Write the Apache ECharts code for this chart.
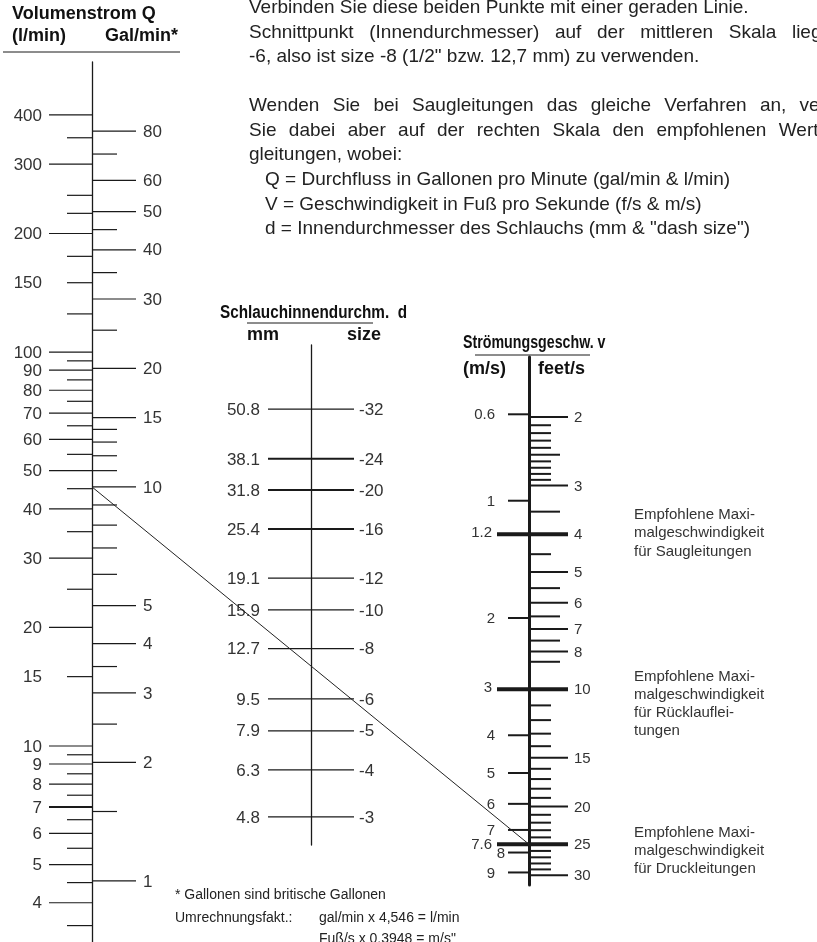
<!DOCTYPE html>
<html>
<head>
<meta charset="utf-8">
<script src="https://cdn.jsdelivr.net/npm/echarts@6/dist/echarts.min.js"></script>
<style>
  html, body { margin: 0; padding: 0; background: #fff; }
  #main { width: 817px; height: 942px; }
</style>
</head>
<body>
<div id="main"></div>
<script>
// Volumenstrom Q, l/min (left side of the first scale)
const lpmLabels = [400, 300, 200, 150, 100, 90, 80, 70, 60, 50, 40, 30, 20, 15, 10, 9, 8, 7, 6, 5, 4];
const lpmShort = [150, 15];
const lpmMinor = [350, 250, 225, 175, 125, 95, 85, 75, 65, 55, 45, 35, 25, 9.5, 8.5, 7.5, 6.5, 5.5, 4.5, 3.5];
// Volumenstrom Q, Gal/min (right side of the first scale)
const galLabels = [80, 60, 50, 40, 30, 20, 15, 10, 5, 4, 3, 2, 1];
const galMinor = [70, 45, 35, 25, 14, 13, 12, 11, 9, 8, 7, 6, 3.5, 2.5, 1.5];
const GAL_TO_L = 4.546;
// Schlauchinnendurchmesser d
const hoseMm = [50.8, 38.1, 31.8, 25.4, 19.1, 15.9, 12.7, 9.5, 7.9, 6.3, 4.8];
const hoseSize = [-32, -24, -20, -16, -12, -10, -8, -6, -5, -4, -3];
const hoseBold = [38.1, 31.8, 25.4];
// Strömungsgeschwindigkeit v
const ftLabels = [2, 3, 4, 5, 6, 7, 8, 10, 15, 20, 25, 30];
const ftBold = [4, 10, 25];
const ftMid = [2.5, 3.5, 5.5, 6.5, 7.5, 8.5];
const ftMinor = [2.1, 2.2, 2.3, 2.4, 2.6, 2.7, 2.8, 2.9, 4.5, 11, 12, 13, 14, 16, 17, 18, 19, 21, 22, 23, 24, 26, 27, 28, 29];
const mpsLabels = [0.6, 1, 1.2, 2, 3, 4, 5, 6, 7, 7.6, 8, 9];
const mpsBold = [1.2, 3, 7.6];
const FT_TO_M = 0.3048;
// example: 10 Gal/min with 25 feet/s
const exampleGal = 10;
const exampleFt = 25;

const INK = '#1a1a1a';
const LABEL = '#333';
const FONT = '"Liberation Sans", Arial, Helvetica, sans-serif';

var chartDom = document.getElementById('main');
var myChart = echarts.init(chartDom, null, { renderer: 'canvas' });

// one tick series on a scale; from/to/labelX are pixel offsets from the axis line
function ticks(grid, values, cfg) {
    return {
        type: 'custom',
        xAxisIndex: grid,
        yAxisIndex: grid,
        silent: true,
        clip: false,
        data: values.map(function (v) { return [0, cfg.toAxis ? cfg.toAxis(v) : v]; }),
        renderItem: function (params, api) {
            var i = params.dataIndex;
            var v = values[i];
            var p = api.coord([0, api.value(1)]);
            var children = [];
            var from = typeof cfg.from === 'function' ? cfg.from(v) : cfg.from;
            var to = typeof cfg.to === 'function' ? cfg.to(v) : cfg.to;
            if (from !== null) {
                children.push({
                    type: 'line',
                    shape: { x1: p[0] + from, y1: p[1], x2: p[0] + to, y2: p[1] },
                    style: { stroke: INK, lineWidth: cfg.width ? cfg.width(v) : 1.2 }
                });
            }
            if (cfg.label) {
                var lx = typeof cfg.labelX === 'function' ? cfg.labelX(v) : cfg.labelX;
                children.push({
                    type: 'text',
                    x: p[0] + lx,
                    y: p[1] + 1,
                    style: {
                        text: cfg.label(v, i),
                        textAlign: cfg.align,
                        textVerticalAlign: 'middle',
                        fontSize: cfg.fontSize || 17,
                        fontFamily: FONT,
                        fill: LABEL
                    }
                });
            }
            return { type: 'group', children: children };
        }
    };
}

function txt(x, y, text, size, bold, color, scaleX) {
    return {
        type: 'text', x: x, y: y, silent: true, scaleX: scaleX || 1,
        style: {
            text: text,
            textVerticalAlign: 'middle',
            fontSize: size,
            fontWeight: bold ? 'bold' : 'normal',
            fontFamily: FONT,
            fill: color || '#222'
        }
    };
}
function hline(x1, x2, y, w) {
    return { type: 'line', silent: true, shape: { x1: x1, y1: y, x2: x2, y2: y }, style: { stroke: INK, lineWidth: w || 1 } };
}

// paragraph lines: text, x, y, extra word gap (justified print)
var paragraph = [
    ['Verbinden Sie diese beiden Punkte mit einer geraden Linie.', 249, 8, 0],
    ['Schnittpunkt (Innendurchmesser) auf der mittleren Skala liegt', 249, 33, 10.4],
    ['-6, also ist size -8 (1/2" bzw. 12,7 mm) zu verwenden.', 249, 57, 0],
    ['Wenden Sie bei Saugleitungen das gleiche Verfahren an, verwenden', 249, 106, 8],
    ['Sie dabei aber auf der rechten Skala den empfohlenen Wert für', 249, 131, 7.1],
    ['gleitungen, wobei:', 249, 155, 0],
    ['Q = Durchfluss in Gallonen pro Minute (gal/min & l/min)', 265, 180, 0],
    ['V = Geschwindigkeit in Fuß pro Sekunde (f/s & m/s)', 265, 205, 0],
    ['d = Innendurchmesser des Schlauchs (mm & "dash size")', 265, 229, 0]
];
var notes = [
    ['Empfohlene Maxi-', 515], ['malgeschwindigkeit', 533], ['für Saugleitungen', 552],
    ['Empfohlene Maxi-', 677], ['malgeschwindigkeit', 695], ['für Rücklauflei-', 713], ['tungen', 731],
    ['Empfohlene Maxi-', 833], ['malgeschwindigkeit', 851], ['für Druckleitungen', 869]
];

var graphics = [
    txt(12, 14, 'Volumenstrom Q', 18, true, '#111'),
    txt(12, 36, '(l/min)', 18, true, '#111'),
    txt(105, 36, 'Gal/min*', 18, true, '#111'),
    hline(3, 180, 52, 1),
    txt(220, 313, 'Schlauchinnendurchm.  d', 18, true, '#111', 0.85),
    hline(247, 373, 323, 1),
    txt(247, 335, 'mm', 18, true, '#111'),
    txt(347, 335, 'size', 18, true, '#111'),
    txt(463, 343, 'Strömungsgeschw. v', 18, true, '#111', 0.79),
    hline(475, 590, 355, 1),
    txt(463, 369, '(m/s)', 18, true, '#111'),
    txt(538, 369, 'feet/s', 18, true, '#111'),
    txt(175, 895, '* Gallonen sind britische Gallonen', 14),
    txt(175, 918, 'Umrechnungsfakt.:', 14),
    txt(319, 918, 'gal/min x 4,546 = l/min', 14),
    txt(319, 939, 'Fuß/s x 0,3948 = m/s"', 14)
];

var measure = document.createElement('canvas').getContext('2d');
measure.font = 'normal 19px ' + FONT;
var spaceW = measure.measureText(' ').width;
paragraph.forEach(function (l) {
    if (!l[3]) { graphics.push(txt(l[1], l[2], l[0], 19)); return; }
    var x = l[1];
    l[0].split(' ').forEach(function (w) {
        graphics.push(txt(x, l[2], w, 19));
        x += measure.measureText(w).width + spaceW + l[3];
    });
});
notes.forEach(function (l) { graphics.push(txt(634, l[1], l[0], 15, false, '#333')); });

function scaleAxis(grid, min, max, width, inverse) {
    return {
        type: 'log', logBase: 10, gridIndex: grid, min: min, max: max, inverse: !!inverse,
        position: 'left',
        axisLine: { show: true, lineStyle: { color: INK, width: width } },
        axisTick: { show: false }, axisLabel: { show: false }, splitLine: { show: false }
    };
}
function hiddenX(grid) {
    return { type: 'value', gridIndex: grid, min: 0, max: 1, show: false };
}

var option = {
    animation: false,
    backgroundColor: '#fff',
    grid: [
        { left: 92, top: 62, width: 60, height: 880, outerBoundsMode: 'none' },
        { left: 311, top: 345, width: 60, height: 500, outerBoundsMode: 'none' },
        { left: 529, top: 357, width: 60, height: 528, outerBoundsMode: 'none' }
    ],
    xAxis: [hiddenX(0), hiddenX(1), hiddenX(2)],
    yAxis: [
        scaleAxis(0, 3.18, 545, 1.3),
        scaleAxis(1, 4.08, 73.6, 1.3),
        scaleAxis(2, 1.403, 31.8, 3, true)
    ],
    series: [
        // l/min
        ticks(0, lpmLabels, {
            from: function (v) { return lpmShort.indexOf(v) >= 0 ? -25 : -43; }, to: 0,
            width: function (v) { return v === 7 ? 2.2 : 1.2; },
            label: function (v) { return String(v); }, labelX: -50, align: 'right'
        }),
        ticks(0, lpmMinor, { from: -25, to: 0 }),
        // Gal/min
        ticks(0, galLabels, {
            toAxis: function (g) { return g * GAL_TO_L; },
            from: 0, to: 44,
            label: function (v) { return String(v); }, labelX: 51, align: 'left'
        }),
        ticks(0, galMinor, { toAxis: function (g) { return g * GAL_TO_L; }, from: 0, to: 25 }),
        // hose mm / size
        ticks(1, hoseMm, {
            from: -43, to: 43,
            width: function (v) { return hoseBold.indexOf(v) >= 0 ? 2 : 1.2; },
            label: function (v) { return v.toFixed(1); }, labelX: -51, align: 'right'
        }),
        ticks(1, hoseMm, {
            from: null,
            label: function (v, i) { return String(hoseSize[i]); }, labelX: 48, align: 'left'
        }),
        // feet/s
        ticks(2, ftLabels, {
            from: function (v) { return ftBold.indexOf(v) >= 0 ? -32 : 0; }, to: 39,
            width: function (v) { return ftBold.indexOf(v) >= 0 ? 4 : 2; },
            label: function (v) { return String(v); }, labelX: 45, align: 'left', fontSize: 15
        }),
        ticks(2, ftMid, { from: 0, to: 31, width: function () { return 2; } }),
        ticks(2, ftMinor, { from: 0, to: 22, width: function () { return 2; } }),
        // m/s
        ticks(2, mpsLabels, {
            toAxis: function (m) { return m / FT_TO_M; },
            from: function (v) { return mpsBold.indexOf(v) >= 0 ? null : -21; }, to: 0,
            width: function () { return 2; },
            label: function (v) { return String(v); },
            labelX: function (v) { return mpsBold.indexOf(v) >= 0 ? -37 : (v === 8 ? -24 : -34); },
            align: 'right', fontSize: 15
        })
    ],
    graphic: { elements: graphics }
};

option && myChart.setOption(option);

// straight line joining the two known points (Q and v)
var p1 = myChart.convertToPixel({ gridIndex: 0 }, [0, exampleGal * GAL_TO_L]);
var p2 = myChart.convertToPixel({ gridIndex: 2 }, [0, exampleFt]);
graphics.push({
    type: 'line', silent: true, z: 10,
    shape: { x1: p1[0], y1: p1[1], x2: p2[0], y2: p2[1] },
    style: { stroke: '#222', lineWidth: 1 }
});
myChart.setOption({ graphic: { elements: graphics } });
</script>
</body>
</html>
